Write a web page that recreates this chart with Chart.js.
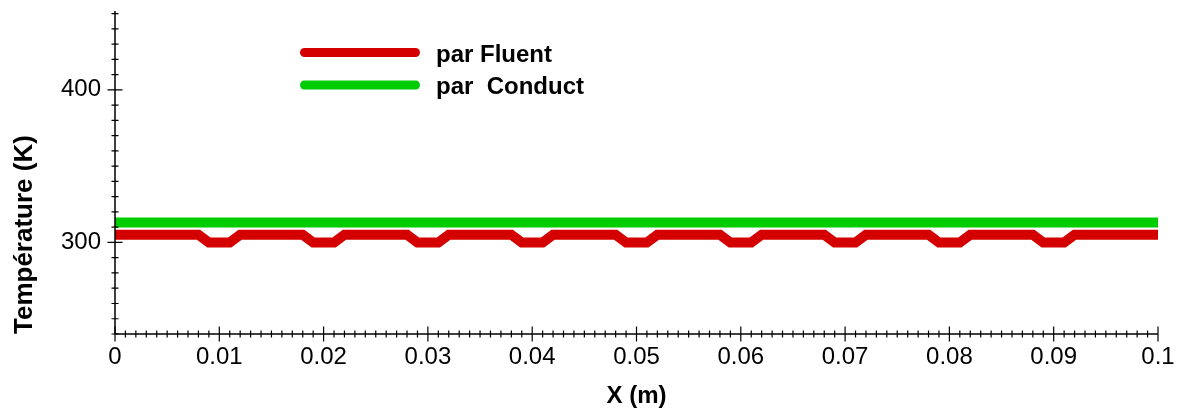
<!DOCTYPE html>
<html>
<head>
<meta charset="utf-8">
<script src="https://cdn.jsdelivr.net/npm/chart.js@4.4.1/dist/chart.umd.min.js"></script>
<style>
html,body{margin:0;padding:0;background:#ffffff;}
#wrap{width:1180px;height:414px;position:relative;}
</style>
</head>
<body>
<div id="wrap"><canvas id="c" width="1180" height="414"></canvas></div>
<script>
// ---- data ----
const seriesLabels = ['par Fluent', 'par  Conduct'];
const fluentX = [0,
  0.008, 0.009, 0.011, 0.012,
  0.018, 0.019, 0.021, 0.022,
  0.028, 0.029, 0.031, 0.032,
  0.038, 0.039, 0.041, 0.042,
  0.048, 0.049, 0.051, 0.052,
  0.058, 0.059, 0.061, 0.062,
  0.068, 0.069, 0.071, 0.072,
  0.078, 0.079, 0.081, 0.082,
  0.088, 0.089, 0.091, 0.092,
  0.1];
const fluentY = [305,
  305, 300, 300, 305,
  305, 300, 300, 305,
  305, 300, 300, 305,
  305, 300, 300, 305,
  305, 300, 300, 305,
  305, 300, 300, 305,
  305, 300, 300, 305,
  305, 300, 300, 305,
  305, 300, 300, 305,
  305];
const conductX = [0, 0.1];
const conductY = [313, 313];
const xMajorTicks = [0, 0.01, 0.02, 0.03, 0.04, 0.05, 0.06, 0.07, 0.08, 0.09, 0.1];
const xTickLabels = ['0', '0.01', '0.02', '0.03', '0.04', '0.05', '0.06', '0.07', '0.08', '0.09', '0.1'];
const yMajorTicks = [300, 400];
const yTickLabels = ['300', '400'];
const xTitle = 'X (m)';
const yTitle = 'Température (K)';
const colors = ['#d40000', '#00cc00'];

// ---- build ----
const FONT = "'Liberation Sans', Arial, sans-serif";
Chart.defaults.font.family = FONT;
Chart.defaults.color = '#000';

const xMinorTicks = [];
for (let i = 0; i <= 100; i++) xMinorTicks.push(i / 1000);
const yMinorTicks = [];
for (let v = 240; v <= 450; v += 10) yMinorTicks.push(v);

function isMajor(list, v) { return list.findIndex(m => Math.abs(m - v) < 1e-9); }

const axisPlugin = {
  id: 'axisTicks',
  afterDraw(chart) {
    const ctx = chart.ctx;
    const xs = chart.scales.x, ys = chart.scales.y;
    const a = chart.chartArea;
    ctx.save();
    ctx.strokeStyle = '#000';
    ctx.lineWidth = 1.5;
    ctx.beginPath();
    ctx.moveTo(a.left, a.top - 1); ctx.lineTo(a.left, a.bottom);
    ctx.moveTo(a.left, a.bottom); ctx.lineTo(a.right, a.bottom);
    ctx.stroke();
    ctx.lineWidth = 1.2;
    ctx.beginPath();
    xs.ticks.forEach(t => {
      const px = xs.getPixelForValue(t.value);
      const L = isMajor(xMajorTicks, t.value) >= 0 ? 7.5 : 3.5;
      ctx.moveTo(px, a.bottom - L); ctx.lineTo(px, a.bottom + L);
    });
    ys.ticks.forEach(t => {
      const py = ys.getPixelForValue(t.value);
      const L = isMajor(yMajorTicks, t.value) >= 0 ? 7.5 : 3.5;
      ctx.moveTo(a.left - L, py); ctx.lineTo(a.left + L, py);
    });
    ctx.stroke();
    ctx.restore();
  }
};

const legendPlugin = {
  id: 'insideLegend',
  afterDraw(chart) {
    const ctx = chart.ctx;
    ctx.save();
    chart.data.datasets.forEach((ds, i) => {
      const ly = 52.5 + i * 32.5;
      ctx.strokeStyle = ds.borderColor;
      ctx.lineWidth = 9;
      ctx.lineCap = 'round';
      ctx.beginPath();
      ctx.moveTo(304.5, ly); ctx.lineTo(415.5, ly);
      ctx.stroke();
      ctx.fillStyle = '#000';
      ctx.font = 'bold 24px ' + FONT;
      ctx.textBaseline = 'alphabetic';
      ctx.textAlign = 'left';
      ctx.fillText(ds.label, 436, 61.5 + i * 32.5);
    });
    ctx.restore();
  }
};

new Chart(document.getElementById('c'), {
  type: 'line',
  data: {
    datasets: [
      {
        label: seriesLabels[0],
        data: fluentX.map((x, i) => ({ x: x, y: fluentY[i] })),
        borderColor: colors[0], backgroundColor: colors[0],
        borderWidth: 10, pointRadius: 0, tension: 0, fill: false
      },
      {
        label: seriesLabels[1],
        data: conductX.map((x, i) => ({ x: x, y: conductY[i] })),
        borderColor: colors[1], backgroundColor: colors[1],
        borderWidth: 10, pointRadius: 0, tension: 0, fill: false
      }
    ]
  },
  options: {
    responsive: false,
    animation: false,
    events: [],
    layout: { padding: { top: 12, right: 22, left: 0, bottom: 0 } },
    plugins: { legend: { display: false }, tooltip: { enabled: false }, title: { display: false } },
    scales: {
      x: {
        type: 'linear', min: 0, max: 0.1,
        grid: { display: false, drawTicks: false },
        border: { display: false },
        afterBuildTicks: s => { s.ticks = xMinorTicks.map(v => ({ value: v })); },
        afterFit: s => { s.height = 80; s.paddingLeft = 0; s.paddingRight = 0; s.paddingTop = 0; s.paddingBottom = 0; },
        ticks: {
          autoSkip: false, maxRotation: 0, minRotation: 0, padding: 9,
          font: { size: 24 }, color: '#000',
          callback: v => { const k = isMajor(xMajorTicks, v); return k >= 0 ? xTickLabels[k] : ''; }
        },
        title: { display: true, text: xTitle, font: { size: 24, weight: 'bold' }, color: '#000', padding: { top: 0, bottom: 3 } }
      },
      y: {
        type: 'linear', min: 240, max: 451,
        grid: { display: false, drawTicks: false },
        border: { display: false },
        afterBuildTicks: s => { s.ticks = yMinorTicks.map(v => ({ value: v })); },
        afterFit: s => { s.width = 115; s.paddingLeft = 0; s.paddingRight = 0; s.paddingTop = 0; s.paddingBottom = 0; },
        ticks: {
          autoSkip: false, padding: 14,
          font: { size: 24 }, color: '#000',
          callback: v => { const k = isMajor(yMajorTicks, v); return k >= 0 ? yTickLabels[k] : ''; }
        },
        title: { display: true, text: yTitle, align: 'start', font: { size: 26, weight: 'bold' }, color: '#000', padding: { top: 9, bottom: 0 } }
      }
    }
  },
  plugins: [axisPlugin, legendPlugin]
});
</script>
</body>
</html>
